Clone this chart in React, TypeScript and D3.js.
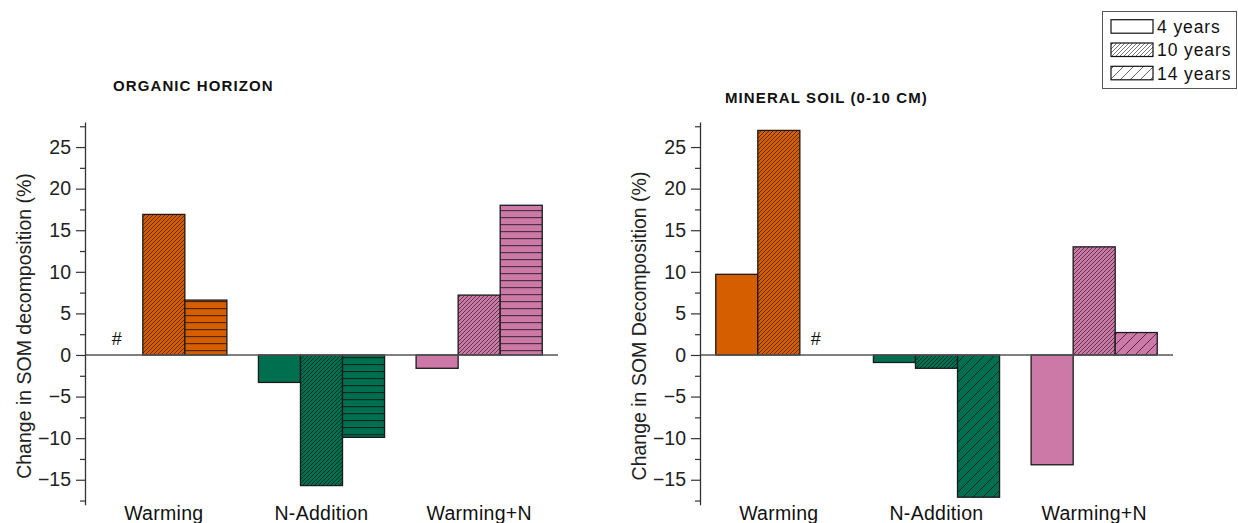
import React, { useEffect, useRef } from "react";
import * as d3 from "d3";

const categories = ["Warming", "N-Addition", "Warming+N"];
const periods = ["4 years", "10 years", "14 years"];

// rows = categories, columns = periods; null = no data (#)
const organicValues = [
  [null, 16.9, 6.6],
  [-3.3, -15.7, -9.9],
  [-1.6, 7.2, 18.0],
];
const mineralValues = [
  [9.7, 27.0, null],
  [-0.9, -1.6, -17.1],
  [-13.2, 13.0, 2.7],
];

const groupColors = ["#D55E00", "#006F4F", "#CC79A7"];
const yTicks = [-15, -10, -5, 0, 5, 10, 15, 20, 25];
const yMinorTicks = [-17.5, -12.5, -7.5, -2.5, 2.5, 7.5, 12.5, 17.5, 22.5, 27.5];

const FONT = "'Liberation Sans', Arial, Helvetica, sans-serif";

function drawPanel(svg, opts) {
  const { left, right, title, titleX, titleY, yLabel, yLabelX, values, patterns } = opts;
  const y = d3.scaleLinear().domain([-18, 28]).range([504.7, 122.1]);
  const x = d3
    .scaleBand()
    .domain(categories)
    .range([left, right])
    .paddingInner(0.2)
    .paddingOuter(0.1);
  const xs = d3.scaleBand().domain(periods).range([0, x.bandwidth()]);

  const g = svg.append("g");

  // bars
  categories.forEach((cat, ci) => {
    periods.forEach((p, pi) => {
      const v = values[ci][pi];
      const bx = x(cat) + xs(p);
      if (v === null) {
        g.append("text")
          .attr("x", bx + xs.bandwidth() / 2 - 5)
          .attr("y", y(0) - 10)
          .attr("text-anchor", "middle")
          .style("font-family", FONT)
          .style("font-size", "18px")
          .attr("fill", "#111")
          .text("#");
        return;
      }
      const by = Math.min(y(v), y(0));
      const bh = Math.abs(y(v) - y(0));
      g.append("rect")
        .attr("x", bx)
        .attr("y", by)
        .attr("width", xs.bandwidth())
        .attr("height", bh)
        .attr("fill", groupColors[ci]);
      if (patterns[pi]) {
        g.append("rect")
          .attr("x", bx)
          .attr("y", by)
          .attr("width", xs.bandwidth())
          .attr("height", bh)
          .attr("fill", "url(#" + patterns[pi] + ")");
      }
      g.append("rect")
        .attr("x", bx)
        .attr("y", by)
        .attr("width", xs.bandwidth())
        .attr("height", bh)
        .attr("fill", "none")
        .attr("stroke", "#1a1a1a")
        .attr("stroke-width", 1.3);
    });
  });

  // zero line
  g.append("line")
    .attr("x1", left)
    .attr("x2", right)
    .attr("y1", y(0))
    .attr("y2", y(0))
    .attr("stroke", "#555")
    .attr("stroke-width", 1.6);

  // y axis
  const minor = g
    .append("g")
    .attr("transform", "translate(" + left + ",0)")
    .call(d3.axisLeft(y).tickValues(yMinorTicks).tickSize(5).tickSizeOuter(0).tickFormat(() => ""));
  minor.select(".domain").attr("stroke", "#333").attr("stroke-width", 1.3);
  minor.selectAll(".tick line").attr("stroke", "#333").attr("stroke-width", 1.2);

  const major = g
    .append("g")
    .attr("transform", "translate(" + left + ",0)")
    .call(d3.axisLeft(y).tickValues(yTicks).tickSize(9).tickPadding(5).tickSizeOuter(0));
  major.select(".domain").remove();
  major.selectAll(".tick line").attr("stroke", "#333").attr("stroke-width", 1.2);
  major
    .selectAll(".tick text")
    .style("font-family", FONT)
    .style("font-size", "19.5px")
    .attr("fill", "#222");

  // category labels
  categories.forEach((cat) => {
    g.append("text")
      .attr("x", x(cat) + x.bandwidth() / 2)
      .attr("y", 520)
      .attr("text-anchor", "middle")
      .style("font-family", FONT)
      .style("font-size", "19.5px")
      .style("letter-spacing", "0.3px")
      .attr("fill", "#111")
      .text(cat);
  });

  // y title
  g.append("text")
    .attr("transform", "translate(" + yLabelX + ",326) rotate(-90)")
    .attr("text-anchor", "middle")
    .style("font-family", FONT)
    .style("font-size", "19.5px")
    .attr("fill", "#222")
    .text(yLabel);

  // panel title
  g.append("text")
    .attr("x", titleX)
    .attr("y", titleY)
    .style("font-family", FONT)
    .style("font-size", "15px")
    .style("font-weight", "bold")
    .style("letter-spacing", "1.1px")
    .attr("fill", "#111")
    .text(title);
}

export default function App() {
  const ref = useRef(null);

  useEffect(() => {
    const svg = d3.select(ref.current);
    svg.selectAll("*").remove();

    const defs = svg.append("defs");
    const dense = defs
      .append("pattern")
      .attr("id", "dense")
      .attr("patternUnits", "userSpaceOnUse")
      .attr("width", 4)
      .attr("height", 4);
    dense
      .append("path")
      .attr("d", "M-1,1 l2,-2 M0,4 l4,-4 M3,5 l2,-2")
      .attr("stroke", "#000")
      .attr("stroke-opacity", 0.6)
      .attr("stroke-width", 0.9);

    const wide = defs
      .append("pattern")
      .attr("id", "wide")
      .attr("patternUnits", "userSpaceOnUse")
      .attr("width", 10)
      .attr("height", 10);
    wide
      .append("path")
      .attr("d", "M-1,1 l2,-2 M0,10 l10,-10 M9,11 l2,-2")
      .attr("stroke", "#000")
      .attr("stroke-opacity", 0.6)
      .attr("stroke-width", 1);

    const horiz = defs
      .append("pattern")
      .attr("id", "horiz")
      .attr("patternUnits", "userSpaceOnUse")
      .attr("width", 8)
      .attr("height", 7);
    horiz
      .append("path")
      .attr("d", "M0,0.6 H8")
      .attr("stroke", "#000")
      .attr("stroke-opacity", 0.6)
      .attr("stroke-width", 1.2);

    svg.append("rect").attr("width", 1238).attr("height", 523).attr("fill", "#fff");

    drawPanel(svg, {
      left: 85,
      right: 558,
      title: "ORGANIC HORIZON",
      titleX: 113,
      titleY: 91,
      yLabel: "Change in SOM decomposition (%)",
      yLabelX: 31,
      values: organicValues,
      patterns: [null, "dense", "horiz"],
    });

    drawPanel(svg, {
      left: 700,
      right: 1173,
      title: "MINERAL SOIL (0-10 CM)",
      titleX: 725,
      titleY: 103,
      yLabel: "Change in SOM Decomposition (%)",
      yLabelX: 646,
      values: mineralValues,
      patterns: [null, "dense", "wide"],
    });

    // legend
    const legend = svg.append("g");
    legend
      .append("rect")
      .attr("x", 1102.5)
      .attr("y", 11.5)
      .attr("width", 134)
      .attr("height", 77)
      .attr("fill", "#fff")
      .attr("stroke", "#555")
      .attr("stroke-width", 1);
    const legendPatterns = [null, "dense", "wide"];
    periods.forEach((p, i) => {
      const ly = 19.7 + i * 23.3;
      legend
        .append("rect")
        .attr("x", 1111)
        .attr("y", ly)
        .attr("width", 42)
        .attr("height", 13.5)
        .attr("fill", legendPatterns[i] ? "url(#" + legendPatterns[i] + ")" : "#fff")
        .attr("stroke", "#111")
        .attr("stroke-width", 1.2);
      legend
        .append("text")
        .attr("x", 1157)
        .attr("y", ly + 13.3)
        .style("font-family", FONT)
        .style("font-size", "17.5px")
        .style("letter-spacing", "0.9px")
        .attr("fill", "#111")
        .text(p);
    });
  }, []);

  return (
    <svg
      ref={ref}
      width={1238}
      height={523}
      style={{ position: "absolute", left: 0, top: 0, background: "#fff" }}
    />
  );
}
